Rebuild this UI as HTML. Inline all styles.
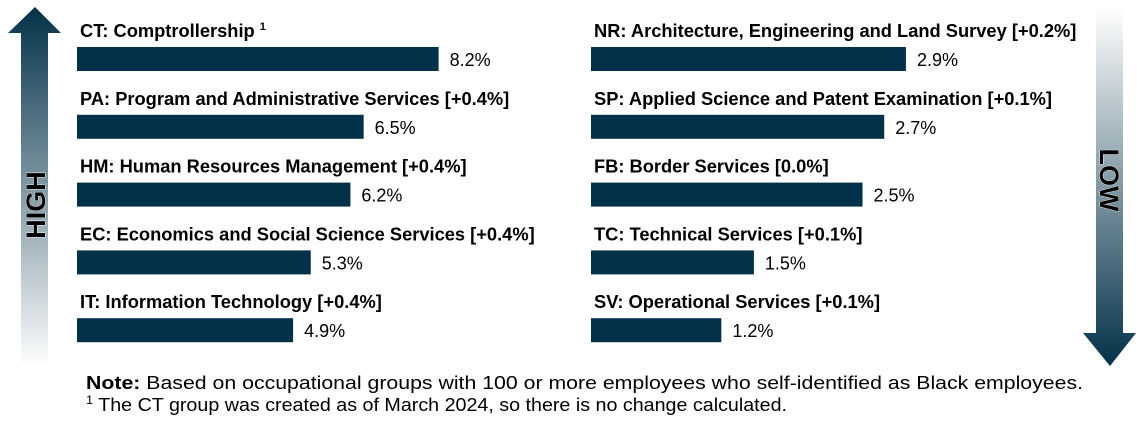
<!DOCTYPE html>
<html><head><meta charset="utf-8"><style>
html,body{margin:0;padding:0;background:#fff;width:1140px;height:428px;overflow:hidden;font-family:"Liberation Sans",Arial,sans-serif;}
</style></head><body>
<svg id="chart" width="1140" height="428" xmlns="http://www.w3.org/2000/svg" font-family="Liberation Sans, Arial, sans-serif">
<defs>
<linearGradient id="gUp" x1="0" y1="0" x2="0" y2="1"><stop offset="0" stop-color="#033149"/><stop offset="1" stop-color="#033149" stop-opacity="0"/></linearGradient>
<linearGradient id="gDown" x1="0" y1="0" x2="0" y2="1"><stop offset="0" stop-color="#033149" stop-opacity="0"/><stop offset="1" stop-color="#033149"/></linearGradient>
</defs>
<path d="M35,7 L61,33 L48,33 L48,368 L21,368 L21,33 L8,33 Z" fill="url(#gUp)"/>
<text transform="translate(45,205) rotate(-90)" text-anchor="middle" font-size="27" font-weight="bold" fill="#000" stroke="#fff" stroke-width="0.8" paint-order="stroke">HIGH</text>
<path d="M1096,8 L1123,8 L1123,333 L1136,333 L1110,366 L1083,333 L1096,333 Z" fill="url(#gDown)"/>
<text transform="translate(1100,180) rotate(90)" text-anchor="middle" font-size="27" font-weight="bold" fill="#000" stroke="#fff" stroke-width="0.8" paint-order="stroke">LOW</text>
<g id="bars"></g>
<text x="86" y="389" font-size="18.5" fill="#000" textLength="997" lengthAdjust="spacingAndGlyphs"><tspan font-weight="bold">Note:</tspan> Based on occupational groups with 100 or more employees who self-identified as Black employees.</text>
<text x="86" y="411" font-size="18.5" fill="#000" textLength="701" lengthAdjust="spacingAndGlyphs"><tspan font-size="12" dy="-7">1</tspan><tspan dy="7"> The CT group was created as of March 2024, so there is no change calculated.</tspan></text>
</svg>
<script>
const leftLabels = ["CT: Comptrollership", "PA: Program and Administrative Services [+0.4%]", "HM: Human Resources Management [+0.4%]", "EC: Economics and Social Science Services [+0.4%]", "IT: Information Technology [+0.4%]"];
const leftValues = [8.2, 6.5, 6.2, 5.3, 4.9];
const rightLabels = ["NR: Architecture, Engineering and Land Survey [+0.2%]", "SP: Applied Science and Patent Examination [+0.1%]", "FB: Border Services [0.0%]", "TC: Technical Services [+0.1%]", "SV: Operational Services [+0.1%]"];
const rightValues = [2.9, 2.7, 2.5, 1.5, 1.2];

const NS = "http://www.w3.org/2000/svg";
const g = document.getElementById('bars');
function rowY(i){ return 47 + i * 67.8; }
function drawPanel(labels, values, x0, pxPer, side){
  const xs = v => x0 + v * pxPer;
  labels.forEach((lab, i) => {
    const y = rowY(i);
    const t = document.createElementNS(NS, 'text');
    
    
    t.setAttribute('x', x0 + 3); t.setAttribute('y', y - 10);
    t.setAttribute('font-size', '18.3'); t.setAttribute('font-weight', 'bold');
    t.textContent = lab;
    if (side === 'left' && i === 0) {
      const s = document.createElementNS(NS, 'tspan');
      s.setAttribute('font-size', '11'); s.setAttribute('dx', '5'); s.setAttribute('dy', '-7');
      s.textContent = '1';
      t.appendChild(s);
    }
    g.appendChild(t);
    const r = document.createElementNS(NS, 'rect');
    
    
    r.setAttribute('x', x0); r.setAttribute('y', y);
    r.setAttribute('width', xs(values[i]) - x0); r.setAttribute('height', 24);
    r.setAttribute('fill', '#033149');
    g.appendChild(r);
    const v = document.createElementNS(NS, 'text');
    
    
    v.setAttribute('x', xs(values[i]) + 11); v.setAttribute('y', y + 19);
    v.setAttribute('font-size', '18');
    v.textContent = values[i].toFixed(1) + '%';
    g.appendChild(v);
  });
}
drawPanel(leftLabels, leftValues, 77, 44.1, 'left');
drawPanel(rightLabels, rightValues, 591, 108.6, 'right');
</script>
</body></html>
